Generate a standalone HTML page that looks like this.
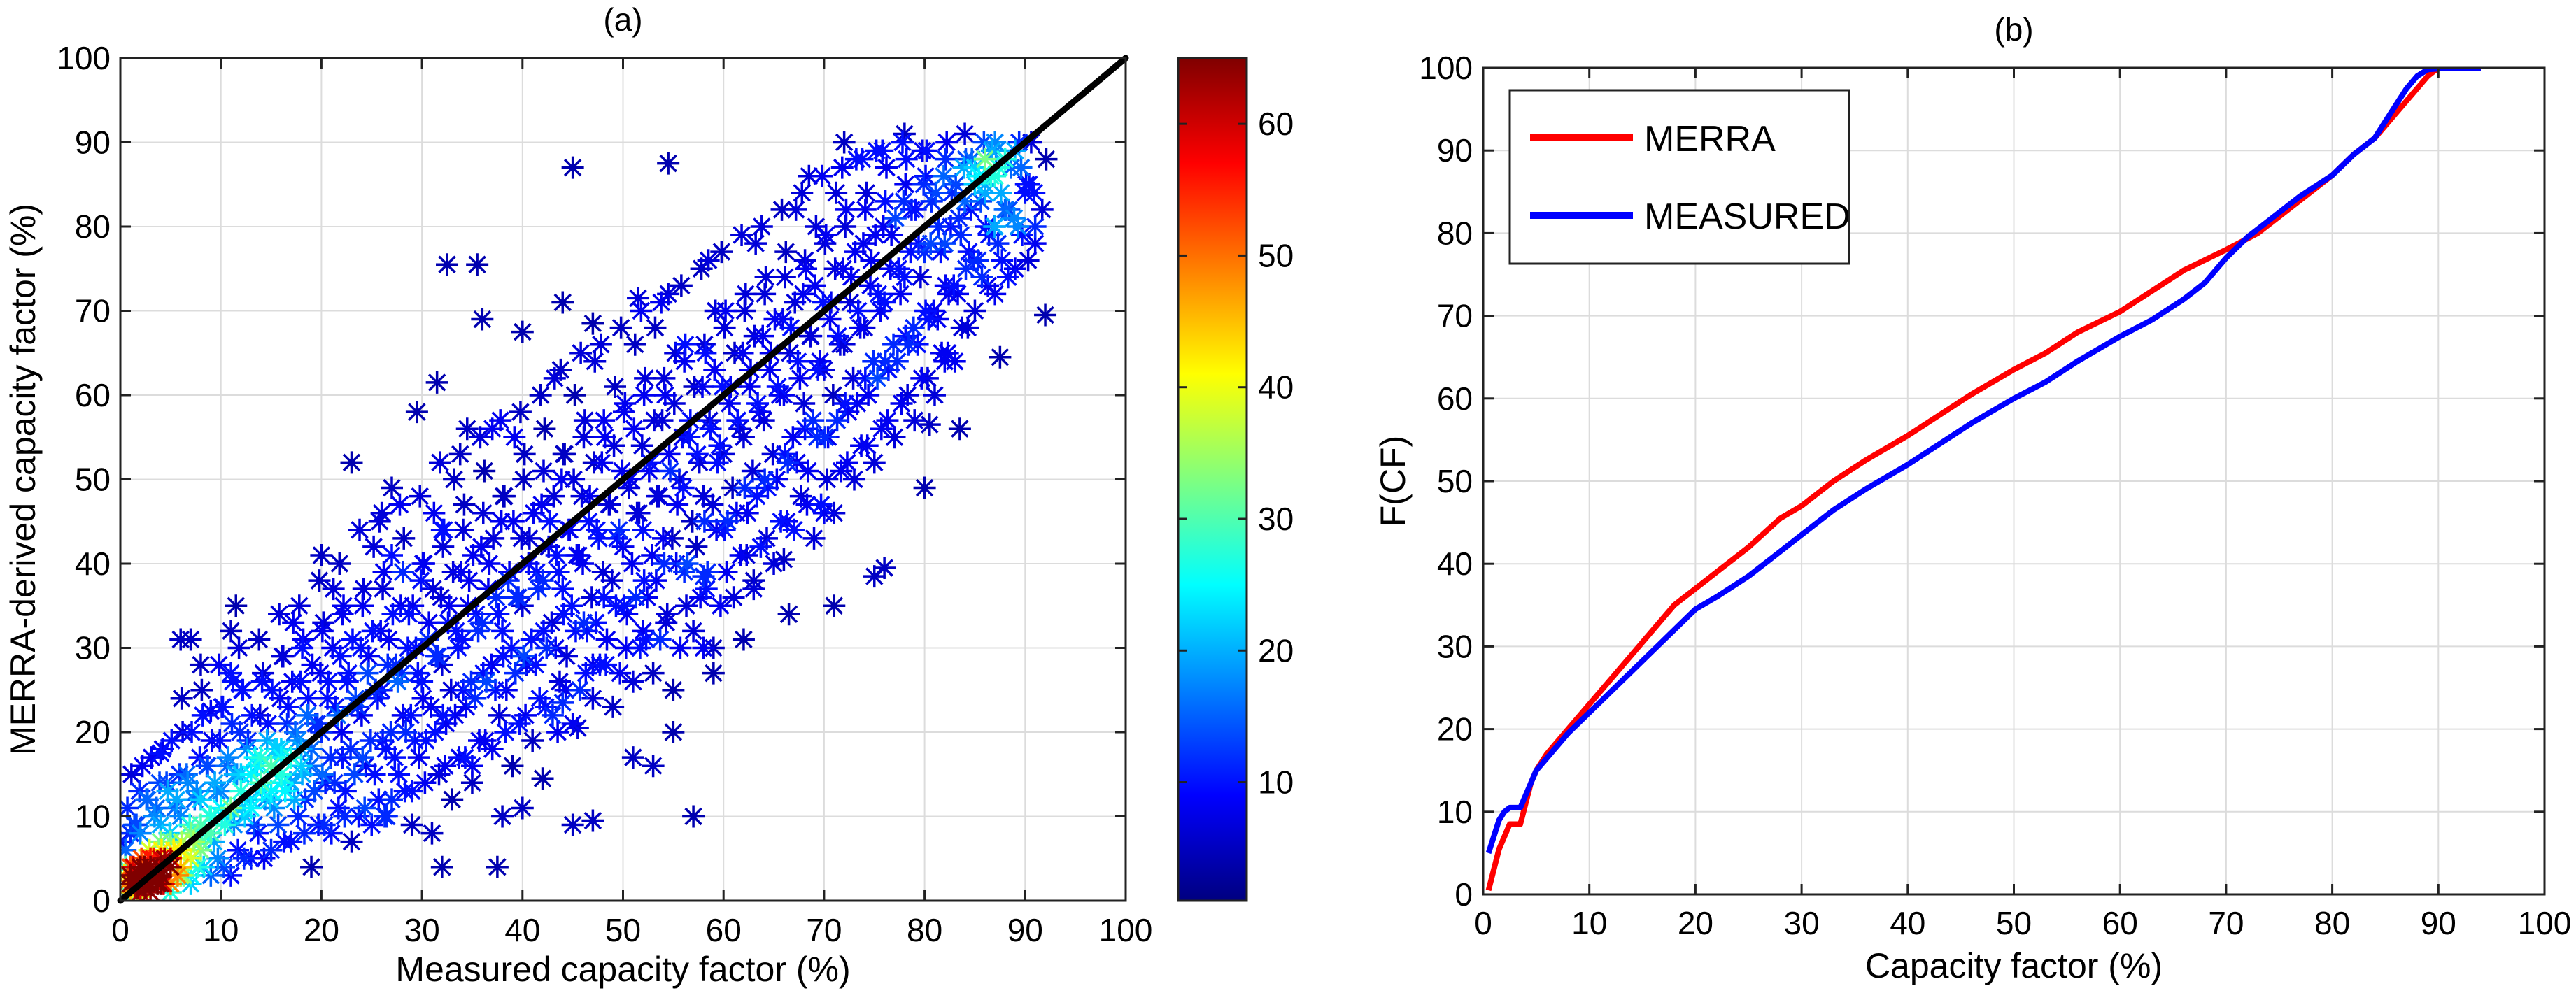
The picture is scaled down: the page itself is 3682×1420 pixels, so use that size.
<!DOCTYPE html>
<html><head><meta charset="utf-8"><style>
html,body{margin:0;padding:0;background:#fff;}
svg{display:block;font-family:"Liberation Sans",Arial,sans-serif;}
</style></head><body>
<svg id="fig" width="3682" height="1420" viewBox="0 0 3682 1420" xmlns="http://www.w3.org/2000/svg">
<defs>
<linearGradient id="jet" x1="0" y1="1" x2="0" y2="0">
<stop offset="0" stop-color="#000080"/><stop offset="0.125" stop-color="#0000ff"/><stop offset="0.375" stop-color="#00ffff"/><stop offset="0.625" stop-color="#ffff00"/><stop offset="0.875" stop-color="#ff0000"/><stop offset="1" stop-color="#800000"/>
</linearGradient>
<clipPath id="clipA"><rect x="172" y="83" width="1437" height="1205"/></clipPath>
<clipPath id="clipB"><rect x="2120" y="97" width="1517" height="1182"/></clipPath>
</defs>
<g id="panelA"></g>
<g id="panelB"></g>
</svg>
<script>
// ---------- Panel (a) data ----------
const ticksA = [0,10,20,30,40,50,60,70,80,90,100];
const bandMeasured = [1,3,5,7,9,11,13,15,17,19,21,23,25,27,29,31,33,35,37,39,41,43,45,47,49,51,53,55,57,59,61,63,65,67,69,71,73,75,77,79,81,83,85,87,89,91];
const bandMerra = [
[0.5,1.5,3,5,7,9,11,13],[1,2,4,6,8,10,12,14,16],[1,3,5,7,9,11,13,15,18],[2,4,6,8,10,12,14,17,20],
[3,5,8,10,12,14,16,19,22],[3,6,9,11,13,15,17,20,23,26],[5,8,10,13,15,17,19,22,25],[6,9,12,14,16,18,21,24,27],
[7,10,13,15,17,20,23,26,29,33],[4,9,12,15,18,21,24,27,31],[8,11,14,17,20,23,26,29,33,37],[7,10,13,17,20,24,27,30,35],
[9,12,16,19,22,25,29,32,37,42],[12,15,18,22,25,28,31,35,39],[13,17,20,24,27,30,34,38,43],[8,15,19,22,26,29,33,36,40,46],
[12,17,21,25,28,32,35,39,44,50],[14,19,23,27,31,34,38,42,47],[18,22,26,29,33,36,40,45,51],[16,21,25,29,32,36,39,43,48,55],
[19,24,28,32,35,39,43,47,53],[22,26,30,34,38,41,45,50,56,62],[21,25,29,33,37,41,44,48,53,60],[24,28,32,36,40,44,48,52,57,64],
[23,27,31,35,39,43,47,51,55,61],[26,30,34,38,42,46,50,54,59,66],[27,31,36,40,44,48,52,57,62,68],[25,30,34,39,43,47,51,55,60,65,72],
[32,36,40,45,49,53,57,61,66],[30,35,39,44,48,52,56,61,65,70,76],[36,41,45,49,53,57,61,65,70],[38,42,46,50,55,59,63,67,72,78],
[40,45,49,53,57,61,65,69,74],[44,48,52,56,60,64,68,72,77,82],[43,47,51,55,59,63,67,71,75,80,86],[46,51,55,59,63,67,71,75,79,84],
[50,54,58,62,66,70,74,78,82,88],[52,56,60,64,68,72,76,80,84,89],[55,59,63,67,71,75,79,83,87],[57,62,66,70,74,78,82,85,88],
[60,65,69,73,77,80,83,86,89],[64,68,72,75,78,81,84,87,90],[70,74,77,80,83,86,88,90],[72,76,79,82,85,87,89],
[75,79,82,85,88,90],[78,82,85,88]
];
const bandSpread = [0,0.7,-0.6,1.1,-1,0.4,-0.3,0.9,-0.8,0.2,-0.5,1.2];
const band2Measured = [2,4,6,8,10,12,14,16,18,20,22,24,26,28,30,32,34,36,38,40,42,44,46,48,50,52,54,56,58,60,62,64,66,68,70,72,74,76,78,80,82,84,86,88,90];
const band2Merra = [
[2,4,6,9,12,15],[2,5,8,11,14,17],[3,6,9,12,15,19,24],[4,7,10,13,16,20,25],[4,7,10,13,16,19,23,28],
[5,9,12,15,18,21,25,30],[5,9,12,16,19,22,26,31],[7,11,14,18,21,25,29,34],[8,12,16,19,22,26,30,35],[9,13,17,21,24,28,32,38],
[10,14,18,22,26,30,34,40],[11,15,19,23,27,31,35,44],[10,15,20,24,28,32,37,45],[13,17,22,26,30,34,39,47],[14,19,23,27,31,35,40,48],
[16,20,25,29,33,37,42,52],[17,22,26,30,35,39,44,53],[19,24,28,32,37,41,46,55],[20,25,30,34,38,43,48,57],[22,27,31,36,40,45,50,58],
[23,28,33,37,42,46,51,60],[25,30,35,39,44,48,53,63],[27,32,36,41,45,50,55,65],[28,33,38,43,47,52,57,66],[30,35,40,44,49,54,58,68],
[31,36,41,46,51,56,60,70],[33,38,43,48,53,57,62,71],[35,40,45,50,55,59,64,73],[37,42,47,52,57,61,66,75],[39,44,49,54,59,63,68,77],
[41,46,51,56,61,65,70,79],[43,48,53,58,63,67,72,80],[45,50,55,60,65,69,74,82],[47,52,57,62,67,71,76,84],[50,55,60,64,69,73,78,86],
[52,57,62,66,71,75,80,87],[54,59,64,68,73,77,82,88],[57,62,66,70,75,79,83,89],[60,64,68,72,77,81,85,90],[62,66,70,74,78,82,86,89],
[65,69,73,77,80,84,88],[68,72,76,79,82,85,88],[73,76,80,83,86],[74,78,81,84,87,89],[76,80,84,87,90]
];
const band2Spread = [0.3,-0.7,0.9,-0.4,0.6,-0.9,0.1,-0.2];
const outlierMeasured = [45,54.5,32.5,35.5,36,40,44,47,51.5,31.5,29.5,34.5,37,23,27,26,20,27,32,11.5,7,6,8,11,11,9,4,92,87.5,82,83.5,80.5,80,76,75,66.5,71,58,57,45,37.5,32,26.5,29,42,43.5,47,51,53,55,44,47,52,58,63,66,67,45.5,35,38,40,59,62,70,72,90,91,84,78];
const outlierMerra   = [87,87.5,75.5,75.5,69,67.5,71,68.5,71.5,61.5,58,56,56,52,49,46,41,41,44,35,31,31,28,32,27,22.5,17.5,69.5,64.5,64,56,56.5,49,39.5,38.5,34,35,30,10,9,4,4,10,9,14.5,20,9.5,17,16,20,23.5,28,32,38.5,37,40.5,44,20.5,16,10,11,27,31,46,90,84,80,91,91];
const clusterMeasured = [1,2,3,2,3,1,4,2,3,4,1,2,3,4,5,1.5,2.5,3.5,2.5,3.5,0.5,1,4,5,0.5,2,2.5,3,1.5,6,7,5,8,6,7,9,8,4,6,0.5,1,0.5,5,7,9,10,8,12,14,15,16,17,13,15,18,14,16,19,11,13,17,86,88,87,85,87,89,86,88,87,85];
const clusterMerra   = [1,2,3,4,2,3,4,1,5,3,2,3,4,5,4,2.5,1.5,3.5,3.5,2.5,0.5,4,2,5,2,0.5,2.5,3,1.5,6,5,7,7,4,8,8,6,7,3,6,8,4,2,3,10,11,9,13,14,16,15,17,15,13,16,17,18,18,11,11,14,88,88,86,87,90,89,84,82,80,85];
// ---------- Panel (b) data ----------
const ticksB = [0,10,20,30,40,50,60,70,80,90,100];
const merraCF = [0.5,1,1.5,2,2.5,3,3.5,4,4.5,5,6,8,10,12,14,16,18,20,22,25,28,30,33,36,40,43,46,50,53,56,60,63,66,70,73,76,78,80,82,84,85,86,87,88,89,90,94];
const merraF  = [0.5,3,5.5,7,8.5,8.5,8.5,11,13.5,15,17,20,23,26,29,32,35,37,39,42,45.5,47,50,52.5,55.5,58,60.5,63.5,65.5,68,70.5,73,75.5,78,80,83,85,87,89.5,91.5,93,94.5,96,97.5,99,100,100];
const measCF  = [0.5,1,1.5,2,2.5,3,3.5,4,4.5,5,6,8,10,12,14,16,18,20,22,25,28,30,33,36,40,43,46,50,53,56,60,63,66,68,70,72,75,77,80,82,84,85,86,87,88,89,91,94];
const measF   = [5,7,9,10,10.5,10.5,10.5,12,13.5,15,16.5,19.5,22,24.5,27,29.5,32,34.5,36,38.5,41.5,43.5,46.5,49,52,54.5,57,60,62,64.5,67.5,69.5,72,74,77,79.5,82.5,84.5,87,89.5,91.5,93.5,95.5,97.5,99,99.8,100,100];
const cbarTicks = [10,20,30,40,50,60];
const cbarMin = 1, cbarMax = 65;

const NS = "http://www.w3.org/2000/svg";
function mk(tag, attrs, parent){const e=document.createElementNS(NS,tag);for(const k in attrs)e.setAttribute(k,attrs[k]);if(parent)parent.appendChild(e);return e;}
function jet(t){t=Math.max(0,Math.min(1,t));const c=v=>Math.round(255*Math.max(0,Math.min(1,v)));
  return `rgb(${c(1.5-Math.abs(4*t-3))},${c(1.5-Math.abs(4*t-2))},${c(1.5-Math.abs(4*t-1))})`;}

// ---------- Panel (a) ----------
const A = {x0:172,x1:1609,y0:1288,y1:83};
const ax = v => A.x0 + (A.x1-A.x0)*v/100;
const ay = v => A.y0 - (A.y0-A.y1)*v/100;
const pa = document.getElementById('panelA');
const gridA = mk('g',{},pa);


ticksA.forEach(t=>{
  if(t>0&&t<100){
    mk('line',{x1:ax(t),x2:ax(t),y1:A.y0,y2:A.y1,stroke:'#dcdcdc','stroke-width':2},gridA);
    mk('line',{x1:A.x0,x2:A.x1,y1:ay(t),y2:ay(t),stroke:'#dcdcdc','stroke-width':2},gridA);
  }
});
const pts=[];
bandMeasured.forEach((bx,i)=>bandMerra[i].forEach((y,j)=>pts.push([bx+bandSpread[j%bandSpread.length],y])));
band2Measured.forEach((bx,i)=>band2Merra[i].forEach((y,j)=>pts.push([bx+band2Spread[j%band2Spread.length],y])));
outlierMeasured.forEach((x,i)=>pts.push([x,outlierMerra[i]]));
clusterMeasured.forEach((x,i)=>pts.push([x,clusterMerra[i]]));
const dens = pts.map(p=>{let c=0;pts.forEach(q=>{const dx=(p[0]-q[0]),dy=(p[1]-q[1]);if(dx*dx+dy*dy<6.25)c++;});const k=c-1;return Math.min(cbarMax,4+1.2*k+0.06*k*k);});
const order = pts.map((p,i)=>i).sort((a,b)=>dens[a]-dens[b]);
const gPts = mk('g',{'clip-path':'url(#clipA)'},pa);


order.forEach(i=>{
  const [x,y]=pts[i]; const cx=ax(x), cy=ay(y);
  const col = jet((dens[i]-cbarMin)/(cbarMax-cbarMin));
  const s=16, d=11.5;
  const m = mk('path',{d:`M${cx-s},${cy}H${cx+s}M${cx},${cy-s}V${cy+s}M${cx-d},${cy-d}L${cx+d},${cy+d}M${cx-d},${cy+d}L${cx+d},${cy-d}`,stroke:col,'stroke-width':3.5,fill:'none'},gPts);
  
  
});
const diag = mk('line',{x1:ax(0),y1:ay(0),x2:ax(100),y2:ay(100),stroke:'#000','stroke-width':9,'stroke-linecap':'round'},pa);


const boxA = mk('rect',{x:A.x0,y:A.y1,width:A.x1-A.x0,height:A.y0-A.y1,fill:'none',stroke:'#222','stroke-width':3},pa);


ticksA.forEach(t=>{
  mk('line',{x1:ax(t),x2:ax(t),y1:A.y0,y2:A.y0-15,stroke:'#222','stroke-width':3},pa);
  mk('line',{x1:ax(t),x2:ax(t),y1:A.y1,y2:A.y1+15,stroke:'#222','stroke-width':3},pa);
  mk('line',{x1:A.x0,x2:A.x0+15,y1:ay(t),y2:ay(t),stroke:'#222','stroke-width':3},pa);
  mk('line',{x1:A.x1,x2:A.x1-15,y1:ay(t),y2:ay(t),stroke:'#222','stroke-width':3},pa);
  const tx = mk('text',{x:ax(t),y:1346,'font-size':46,'text-anchor':'middle'},pa); tx.textContent=t;
  
  
  const ty = mk('text',{x:158,y:ay(t)+16,'font-size':46,'text-anchor':'end'},pa); ty.textContent=t;
  
  
});
let t1 = mk('text',{x:(A.x0+A.x1)/2,y:1403,'font-size':50,'text-anchor':'middle'},pa); t1.textContent='Measured capacity factor (%)';


let t2 = mk('text',{x:0,y:0,'font-size':50,'text-anchor':'middle',transform:`translate(50,${(A.y0+A.y1)/2}) rotate(-90)`},pa); t2.textContent='MERRA-derived capacity factor (%)';


let t3 = mk('text',{x:(A.x0+A.x1)/2,y:44,'font-size':46,'text-anchor':'middle'},pa); t3.textContent='(a)';


const C = {x0:1684,x1:1782,y0:1288,y1:83};
const cy = v => C.y0 - (C.y0-C.y1)*(v-cbarMin)/(cbarMax-cbarMin);
const cb = mk('rect',{x:C.x0,y:C.y1,width:C.x1-C.x0,height:C.y0-C.y1,fill:'url(#jet)',stroke:'#222','stroke-width':3},pa);


cbarTicks.forEach(t=>{
  mk('line',{x1:C.x0,x2:C.x0+12,y1:cy(t),y2:cy(t),stroke:'#222','stroke-width':3},pa);
  mk('line',{x1:C.x1,x2:C.x1-12,y1:cy(t),y2:cy(t),stroke:'#222','stroke-width':3},pa);
  const l = mk('text',{x:1798,y:cy(t)+16,'font-size':46},pa); l.textContent=t;
  
  
});

// ---------- Panel (b) ----------
const B = {x0:2120,x1:3637,y0:1279,y1:97};
const bx = v => B.x0 + (B.x1-B.x0)*v/100;
const by = v => B.y0 - (B.y0-B.y1)*v/100;
const pb = document.getElementById('panelB');
ticksB.forEach(t=>{
  if(t>0&&t<100){
    mk('line',{x1:bx(t),x2:bx(t),y1:B.y0,y2:B.y1,stroke:'#dcdcdc','stroke-width':2},pb);
    mk('line',{x1:B.x0,x2:B.x1,y1:by(t),y2:by(t),stroke:'#dcdcdc','stroke-width':2},pb);
  }
});
const gl = mk('g',{'clip-path':'url(#clipB)'},pb);
const redLine = mk('polyline',{points:merraCF.map((x,i)=>bx(x)+','+by(merraF[i])).join(' '),fill:'none',stroke:'#ff0000','stroke-width':8,'stroke-linejoin':'round'},gl);


const blueLine = mk('polyline',{points:measCF.map((x,i)=>bx(x)+','+by(measF[i])).join(' '),fill:'none',stroke:'#0000ff','stroke-width':8,'stroke-linejoin':'round'},gl);


const boxB = mk('rect',{x:B.x0,y:B.y1,width:B.x1-B.x0,height:B.y0-B.y1,fill:'none',stroke:'#222','stroke-width':3},pb);


ticksB.forEach(t=>{
  mk('line',{x1:bx(t),x2:bx(t),y1:B.y0,y2:B.y0-15,stroke:'#222','stroke-width':3},pb);
  mk('line',{x1:bx(t),x2:bx(t),y1:B.y1,y2:B.y1+15,stroke:'#222','stroke-width':3},pb);
  mk('line',{x1:B.x0,x2:B.x0+15,y1:by(t),y2:by(t),stroke:'#222','stroke-width':3},pb);
  mk('line',{x1:B.x1,x2:B.x1-15,y1:by(t),y2:by(t),stroke:'#222','stroke-width':3},pb);
  const tx = mk('text',{x:bx(t),y:1336,'font-size':46,'text-anchor':'middle'},pb); tx.textContent=t;
  
  
  const ty = mk('text',{x:2105,y:by(t)+16,'font-size':46,'text-anchor':'end'},pb); ty.textContent=t;
  
  
});
let b1 = mk('text',{x:(B.x0+B.x1)/2,y:1398,'font-size':50,'text-anchor':'middle'},pb); b1.textContent='Capacity factor (%)';


let b2 = mk('text',{x:0,y:0,'font-size':50,'text-anchor':'middle',transform:`translate(2008,${(B.y0+B.y1)/2}) rotate(-90)`},pb); b2.textContent='F(CF)';


let b3 = mk('text',{x:(B.x0+B.x1)/2,y:58,'font-size':46,'text-anchor':'middle'},pb); b3.textContent='(b)';


const lg = mk('g',{},pb);


mk('rect',{x:2158,y:129,width:485,height:248,fill:'#fff',stroke:'#222','stroke-width':3},lg);
mk('line',{x1:2187,x2:2334,y1:197,y2:197,stroke:'#ff0000','stroke-width':10},lg);
mk('line',{x1:2187,x2:2334,y1:308,y2:308,stroke:'#0000ff','stroke-width':10},lg);
const le1 = mk('text',{x:2350,y:216,'font-size':52},lg); le1.textContent='MERRA';


const le2 = mk('text',{x:2350,y:327,'font-size':52},lg); le2.textContent='MEASURED';


</script>
</body></html>
